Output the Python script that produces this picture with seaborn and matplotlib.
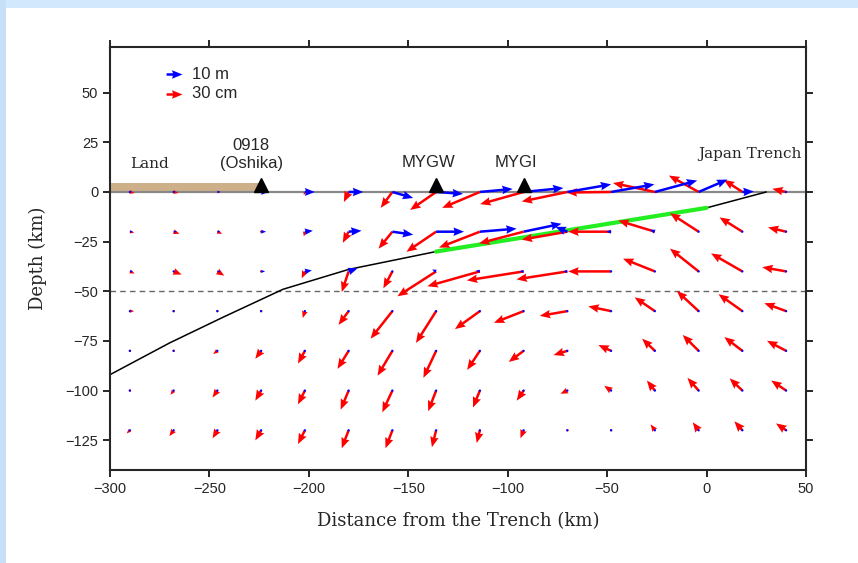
import numpy as np
import matplotlib
matplotlib.use("Agg")
import matplotlib.pyplot as plt
import seaborn as sns
from matplotlib.patches import Rectangle

# Точки сітки (км)
grid_x = [-290, -268, -246, -224, -202, -180, -158, -136, -114, -92, -70, -48, -26, -4, 18, 40]
grid_z = [0, -20, -40, -60, -80, -100, -120]

# Червоні вектори (см), по рядках глибини
red_u = [
    [9, 9, 6, 2, -2, -9, -22, -49, -71, -82, -86, -84, -79, -56, -35, -26],
    [8, 11, 9, 4, -2, -11, -26, -56, -77, -84, -86, -81, -69, -54, -43, -34],
    [9, 15, 13, 2, -6, -13, -17, -73, -99, -107, -96, -81, -60, -54, -59, -45],
    [8, 2, 2, -4, -4, -19, -41, -38, -47, -56, -52, -43, -38, -41, -45, -41],
    [-2, 2, -8, -11, -13, -21, -28, -24, -24, -28, -26, -24, -24, -30, -34, -36],
    [-2, -6, -9, -11, -13, -15, -19, -15, -13, -13, -13, -13, -15, -21, -24, -28],
    [-6, -8, -9, -11, -13, -13, -13, -8, -6, -6, -4, -4, -8, -11, -15, -19],
]
red_v = [
    [-2, -2, 0, -2, -6, -19, -30, -34, -30, -23, -18, -1, 17, 31, 23, 6],
    [-2, -4, -4, 0, -9, -21, -32, -38, -30, -22, -15, 0, 21, 35, 27, 8],
    [-4, -6, -8, 0, -13, -39, -32, -47, -28, -17, -15, 0, 24, 43, 34, 8],
    [0, 0, 0, 2, -13, -26, -52, -60, -34, -22, -9, 9, 26, 38, 32, 15],
    [0, 0, -6, -15, -24, -34, -47, -51, -36, -21, -8, 11, 23, 30, 26, 19],
    [-2, -8, -13, -19, -26, -36, -41, -39, -32, -19, -6, 9, 19, 24, 23, 19],
    [-6, -11, -15, -19, -26, -34, -34, -32, -24, -15, -2, 2, 11, 15, 17, 13],
]

# Сині вектори (м)
blue_u = [
    [1.2, 1.2, 1.9, 4.5, 6.2, 9.2, 13.1, 16.9, 20.6, 25.0, 27.5, 27.2, 26.6, 18.1, 7.2, 0.6],
    [1.9, 1.9, 1.9, 3.1, 5.0, 8.1, 13.1, 17.5, 23.1, 23.8, -7.5, -3.1, -3.1, 0.4, 0.3, 0.3],
    [1.9, 1.2, 1.9, 2.5, 4.4, 5.6, 0.9, -2.5, -2.5, -2.5, -2.5, -1.2, 0.3, 0.3, 0.3, 0.3],
    [0.3, 0.3, 0.3, 0.3, 0.3, 0.3, 0.3, 0.3, 0.3, 0.3, 0.3, 0.3, 0.3, 0.3, 0.3, 0.3],
    [0.3, 1.5, 0.3, 0.3, 0.3, 0.3, 0.3, 0.3, 0.3, 0.3, 0.3, 0.3, 0.3, 0.3, 0.3, 0.3],
    [0.3, 0.3, 0.3, 0.3, 0.3, 0.3, 0.3, 0.3, 0.3, 0.3, 0.3, 0.3, 0.3, 0.3, 0.3, 0.3],
    [0.3, 0.3, 0.3, 0.3, 0.3, 0.3, 0.3, 0.3, 0.3, 0.3, 0.3, 0.3, 0.3, 0.3, 0.3, 0.3],
]
blue_v = [
    [0, 0, 0, 0, 0, 0, -3.8, -1.2, 1.9, 2.5, 4.8, 4.8, 7.2, 7.8, 0.3, 0],
    [0, 0, 0, 0, 0.6, 0.6, -1.9, 0, 1.9, 5.0, 3.1, 0, 1.2, 0, 0, 0],
    [0, 0, 0, 0, 0.6, 1.9, 0.6, 1.2, 0.6, 0, 0, 0, 0, 0, 0, 0],
    [0, 0, 0, 0, 0, 0, 0, 0, 0, 0, 0, 0, 0, 0, 0, 0],
    [0, 0, 0, 0, 0, 0, 0, 0, 0, 0, 0, 0, 0, 0, 0, 0],
    [0, 0, 0, 0, 0, 0, 0, 0, 0, 0, 0, 0, 0, 0, 0, 0],
    [0, 0, 0, 0, 0, 0, 0, 0, 0, 0, 0, 0, 0, 0, 0, 0],
]

# Верх плити та зона розриву
slab_x = [-300, -270, -243, -213, -180, -136, 0, 30]
slab_z = [-92, -76, -63, -49, -39, -30, -8, 0]
fault_x = [-136, 0]
fault_z = [-30, -8]

# Станції
station_names = ["0918\n(Oshika)", "MYGW", "MYGI"]
station_x = [-224, -136, -92]

# Масштаби стрілок: 30 см та 10 м відповідають 8 км на графіку
red_key, blue_key, key_km = 30, 10, 8

sns.set_style("ticks")
plt.rcParams["font.family"] = ["Liberation Sans", "DejaVu Sans"]

fig = plt.figure(figsize=(8.58, 5.63), dpi=100)
fig.patches.append(Rectangle((0, 1 - 8 / 563), 1, 8 / 563, transform=fig.transFigure,
                             facecolor="#d2e8fc", edgecolor="none", zorder=-5))
fig.patches.append(Rectangle((0, 0), 6 / 858, 1, transform=fig.transFigure,
                             facecolor="#c6e0fa", edgecolor="none", zorder=-5))
ax = fig.add_axes([110 / 858, 93 / 563, 696 / 858, 423 / 563])

X, Z = np.meshgrid(grid_x, grid_z)

# Суходіл і поверхня
ax.add_patch(Rectangle((-300, 0), 75, 4.5, facecolor="#cdb08a", edgecolor="none", zorder=1))
ax.axhline(0, color="#888888", lw=1.6, zorder=1)
ax.axhline(-50, color="#666666", lw=1.0, ls=(0, (4, 3)), zorder=1)

sns.lineplot(x=slab_x, y=slab_z, sort=False, color="black", lw=1.1, ax=ax, zorder=2)
sns.lineplot(x=fault_x, y=fault_z, sort=False, color="#22ee22", lw=3, ax=ax, zorder=2)

arrow_kw = dict(angles="xy", scale_units="xy", width=0.0036, headwidth=3.4,
                headlength=4.2, headaxislength=3.8)
qr = ax.quiver(X, Z, np.array(red_u), np.array(red_v), color="red",
               scale=red_key / key_km, zorder=3, **arrow_kw)
qb = ax.quiver(X, Z, np.array(blue_u), np.array(blue_v), color="blue",
               scale=blue_key / key_km, zorder=4, **arrow_kw)

ax.quiverkey(qb, 0.1034, 0.936, blue_key, "10 m", labelpos="E", coordinates="axes",
             fontproperties={"family": "Liberation Sans", "size": 12})
ax.quiverkey(qr, 0.1034, 0.889, red_key, "30 cm", labelpos="E", coordinates="axes",
             fontproperties={"family": "Liberation Sans", "size": 12})

ax.plot(station_x, [3.6] * len(station_x), marker="^", ls="none", color="black",
        markersize=10, zorder=5)
ax.text(-229, 19, station_names[0], ha="center", va="center", fontsize=12, linespacing=1.25)
for name, sx in zip(station_names[1:], station_x[1:]):
    ax.text(sx - 4, 15, name, ha="center", va="center", fontsize=12)
ax.text(-280, 14, "Land", ha="center", va="center", fontsize=11, family="DejaVu Serif")
ax.text(22, 19, "Japan Trench", ha="center", va="center", fontsize=11, family="DejaVu Serif")

ax.set_xlim(-300, 50)
ax.set_ylim(-140, 73)
ax.set_xticks(range(-300, 51, 50))
ax.set_yticks(range(-125, 51, 25))
ax.tick_params(direction="out", length=5, width=1.4, top=True, right=True,
               labeltop=False, labelright=False, labelsize=10.5)
for s in ax.spines.values():
    s.set_linewidth(1.5)
ax.set_xlabel("Distance from the Trench (km)", family="DejaVu Serif", fontsize=13, labelpad=12)
ax.set_ylabel("Depth (km)", family="DejaVu Serif", fontsize=13, labelpad=13)

fig.savefig("out.png", dpi=100)
